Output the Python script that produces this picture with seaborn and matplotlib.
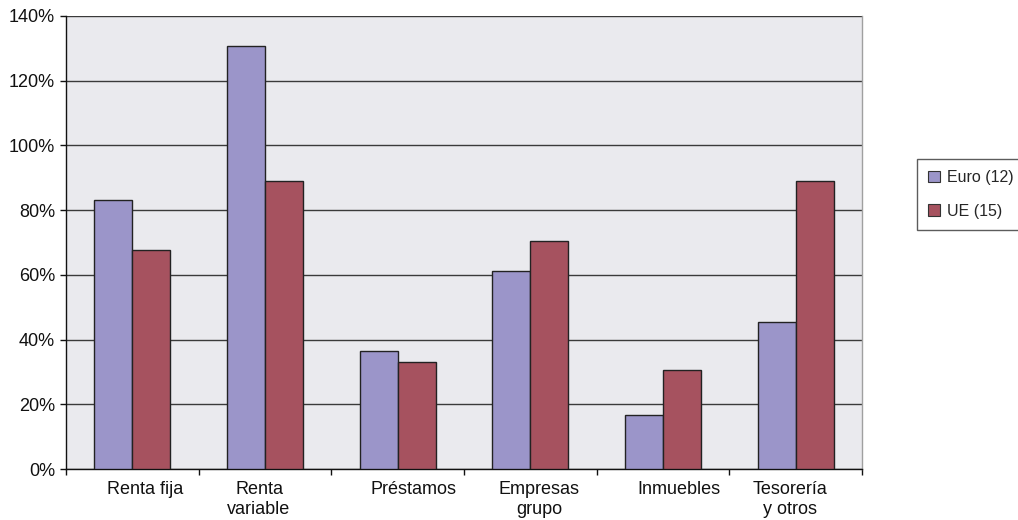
import matplotlib
matplotlib.use("Agg")
import matplotlib.pyplot as plt
from matplotlib.ticker import FixedLocator, PercentFormatter
from matplotlib.transforms import ScaledTranslation
import seaborn as sns
import pandas as pd

# Asset classes and their shares (%) for each group of countries
categorias = ["Renta fija", "Renta\nvariable", "Préstamos", "Empresas\ngrupo", "Inmuebles", "Tesorería\ny otros"]
euro_12 = [83.0, 130.6, 36.4, 61.3, 16.6, 45.3]
ue_15 = [67.6, 89.1, 33.2, 70.4, 30.6, 89.0]
series = ["Euro (12)", "UE (15)"]
colores = ["#9B95C9", "#A6525F"]
# horizontal nudge of each category label, in points
desplazamiento_etiqueta = [9.0, -4.3, 11.7, 6.5, 11.5, -3.8]

df = pd.DataFrame({
    "categoria": categorias * 2,
    "valor": euro_12 + ue_15,
    "serie": [series[0]] * len(categorias) + [series[1]] * len(categorias),
})

sns.set_theme(style="white")
plt.rcParams["font.family"] = ["Liberation Sans", "DejaVu Sans"]

fig = plt.figure(figsize=(10.18, 5.20), dpi=100)
ax = fig.add_axes([66 / 1018, 1 - 469 / 520, (862 - 66) / 1018, (469 - 16) / 520])
ax.set_facecolor("#EAEAEE")

sns.barplot(data=df, x="categoria", y="valor", hue="serie", order=categorias,
            hue_order=series, palette=colores, width=0.573, saturation=1,
            edgecolor="#222222", linewidth=1.0, ax=ax, zorder=3)

ax.set_xlim(-0.5, len(categorias) - 0.5)
ax.set_ylim(0, 140)
ax.set_yticks(range(0, 141, 20))
ax.yaxis.set_major_formatter(PercentFormatter(decimals=0))
ax.yaxis.grid(True, color="#3a3a3a", linewidth=1.0, zorder=0)
ax.set_axisbelow(True)
ax.set_xlabel("")
ax.set_ylabel("")

# category boundaries carry the tick marks, labels sit centred between them
ax.xaxis.set_minor_locator(FixedLocator([i - 0.5 for i in range(len(categorias) + 1)]))
ax.tick_params(axis="x", which="major", length=0, pad=9, labelsize=13, colors="#111111")
ax.tick_params(axis="x", which="minor", length=4, width=1, color="#111111", direction="out")
ax.tick_params(axis="y", which="major", length=4, width=1, color="#111111", direction="out",
               pad=4, labelsize=13, labelcolor="#111111")
ax.tick_params(axis="x", bottom=True, which="both")
ax.tick_params(axis="y", left=True)
for lbl, dx in zip(ax.get_xticklabels(), desplazamiento_etiqueta):
    lbl.set_linespacing(1.2)
    lbl.set_transform(lbl.get_transform() + ScaledTranslation(dx / 72, 0, fig.dpi_scale_trans))

for side in ["left", "bottom"]:
    ax.spines[side].set_color("#111111")
    ax.spines[side].set_linewidth(1.0)
ax.spines["top"].set_visible(False)
ax.spines["right"].set_color("#A0A0A0")
ax.spines["right"].set_linewidth(1.0)

leg = ax.legend(loc="upper left", bbox_to_anchor=(917 / 1018, 1 - 159 / 520),
                bbox_transform=fig.transFigure, frameon=True, fancybox=False,
                fontsize=11.5, handlelength=0.75, handleheight=0.75,
                handletextpad=0.45, borderpad=0.7, labelspacing=1.15,
                borderaxespad=0)
leg.get_frame().set_edgecolor("#333333")
leg.get_frame().set_linewidth(1.0)
for h in leg.legend_handles:
    h.set_edgecolor("#333333")
    h.set_linewidth(0.8)

fig.savefig("out.png", dpi=100, facecolor="white")
